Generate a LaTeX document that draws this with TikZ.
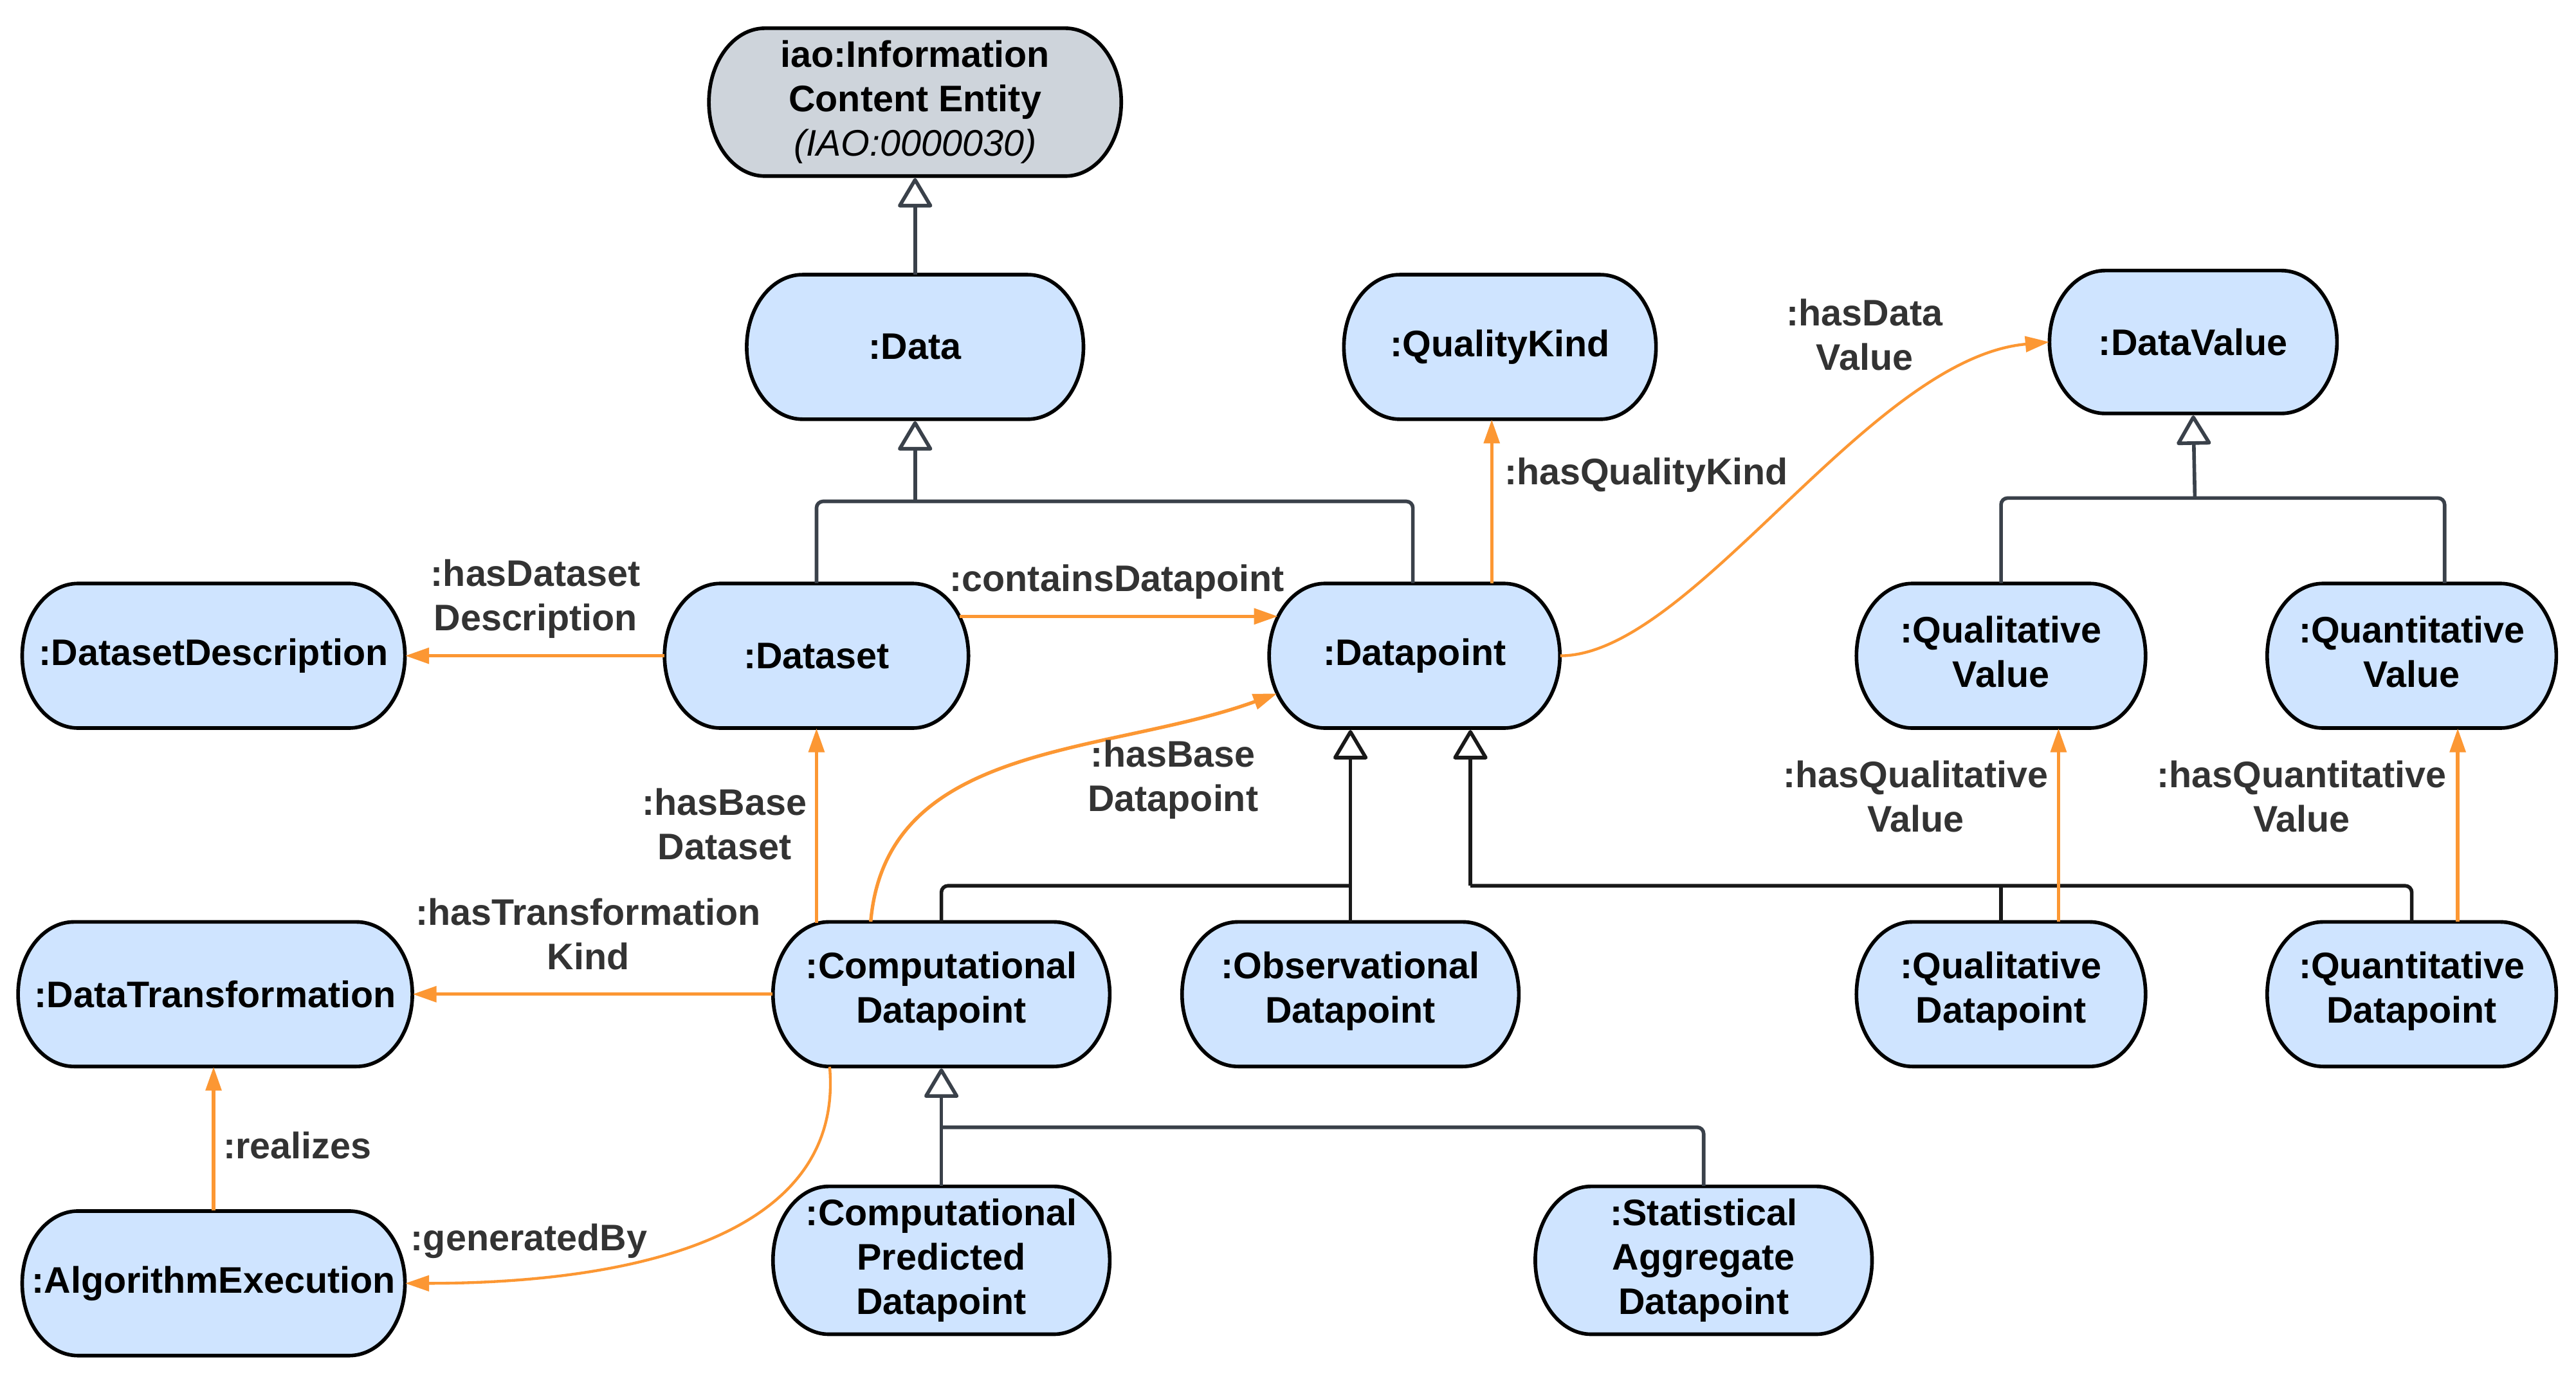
\documentclass[tikz,border=0pt]{standalone}
\usepackage{fontspec}
\setmainfont{Liberation Sans}
\usetikzlibrary{arrows.meta,calc}
\definecolor{nodeblue}{HTML}{CFE4FF}
\definecolor{nodegray}{HTML}{CED4DB}
\definecolor{inhgray}{HTML}{3A414A}
\definecolor{relorange}{HTML}{FC9733}
\definecolor{lbltext}{HTML}{333333}

\newcommand\pillnode[8]{%
  \filldraw[line width=2.2pt, fill=#6] ({#2-#4/2+34},{#3+#5/2}) -- ({#2+#4/2-34},{#3+#5/2})
    arc[start angle=90,end angle=-90,x radius=34,y radius=#5/2]
    -- ({#2-#4/2+34},{#3-#5/2})
    arc[start angle=270,end angle=90,x radius=34,y radius=#5/2] -- cycle;
  \node[nodetext, minimum width=#4pt, minimum height=#5pt, text depth=0pt] (#1) at (#2,#3) {};
  \node[nodetext] (#1-t) at ($(#1.center)+(0,#7)$) {#8};
}

\tikzset{
  nodetext/.style={inner sep=0pt, align=center, text=black,
    font=\bfseries\fontsize{22.5}{27}\selectfont},
  lbl/.style={inner sep=0pt, align=center, text=lbltext,
    font=\bfseries\fontsize{22.5}{27}\selectfont},
  inh/.style={draw=inhgray, line width=2.2pt, rounded corners=4pt},
  inhblack/.style={draw=black!90, line width=2.2pt, rounded corners=4pt},
  inharrow/.style={-{Triangle[length=19pt,width=22pt,fill=white,round]}, shorten >=1pt},
  rel/.style={draw=relorange, line width=2.1pt,
    -{Triangle[length=14.5pt,width=9.5pt]}},
  relthin/.style={draw=relorange, line width=1.7pt,
    -{Triangle[length=14.5pt,width=9.5pt]}},
}

\begin{document}
\begin{tikzpicture}[x=1pt,y=1pt]
\path[use as bounding box, fill=white] (0,0) rectangle (1568,838.2);

% ---- nodes ----
\pillnode{IAO}{557}{776}{251}{90}{nodegray}{0}{iao:Information\\Content Entity\\{\mdseries\itshape (IAO:0000030)}}
\pillnode{Data}{557}{627}{205}{88}{nodeblue}{0}{:Data}
\pillnode{QK}{913}{627}{190}{88}{nodeblue}{0}{:QualityKind}
\pillnode{DV}{1335}{630}{175}{87}{nodeblue}{0}{:DataValue}
\pillnode{DD}{130}{439}{233}{88}{nodeblue}{0}{:DatasetDescription}
\pillnode{Dataset}{497}{439}{185}{88}{nodeblue}{0}{:Dataset}
\pillnode{DP}{861}{439}{177}{88}{nodeblue}{0}{:Datapoint}
\pillnode{QualV}{1218}{439}{176}{88}{nodeblue}{2.5}{:Qualitative\\Value}
\pillnode{QuantV}{1468}{439}{176}{88}{nodeblue}{2.5}{:Quantitative\\Value}
\pillnode{DT}{131}{233}{240}{88}{nodeblue}{0}{:DataTransformation}
\pillnode{Comp}{573}{233}{205}{88}{nodeblue}{2}{:Computational\\Datapoint}
\pillnode{Obs}{822}{233}{205}{88}{nodeblue}{2}{:Observational\\Datapoint}
\pillnode{QualDP}{1218}{233}{176}{88}{nodeblue}{2}{:Qualitative\\Datapoint}
\pillnode{QuantDP}{1468}{233}{176}{88}{nodeblue}{2}{:Quantitative\\Datapoint}
\pillnode{AE}{130}{57}{233}{88}{nodeblue}{0}{:AlgorithmExecution}
\pillnode{CPD}{573}{71}{205}{90}{nodeblue}{0}{:Computational\\Predicted\\Datapoint}
\pillnode{SAD}{1037}{71}{205}{90}{nodeblue}{0}{:Statistical\\Aggregate\\Datapoint}

% ---- junction coordinates ----
\coordinate (j1) at (557,533);
\coordinate (j2) at (1336,535);
\coordinate (j3) at (822,299);
\coordinate (j4) at (895,299);
\coordinate (j5) at (573,152);

% ---- inheritance ----
\draw[inh, inharrow] (Data.north) -- (IAO.south);
\draw[inh] (Dataset.north) |- (j1) -| ($(DP.north)+(-1,0)$);
\draw[inh, inharrow, rounded corners=0pt] (j1) -- (Data.south);

\draw[inh] (QualV.north) |- (j2) -| ($(QuantV.north)+(20,0)$);
\draw[inh, inharrow, rounded corners=0pt] (j2) -- (DV.south);

\draw[inhblack] (Comp.north) |- (j3);
\draw[inhblack, inharrow] (Obs.north) -- (Obs.north |- DP.south);
\draw[inhblack, inharrow, rounded corners=0pt] (j4) -- (j4 |- DP.south);
\draw[inhblack] (QuantDP.north) |- (j4);
\draw[inhblack] (QualDP.north) -- (QualDP.north |- j4);

\draw[inh] (SAD.north) |- (j5);
\draw[inh, inharrow] (CPD.north) -- (Comp.south);

% ---- relations ----
\draw[rel] (Dataset.west) -- (DD.east);
\draw[rel] ($(Dataset.east)+(-5.5,24)$) -- ($(DP.west)+(5.5,24)$);
\draw[rel] ($(DP.north)+(47,0)$) coordinate (qk0) -- (qk0 |- QK.south);
\draw[relthin] (DP.east) .. controls +(80,0) and +(-110,-10) .. (DV.west);
\draw[rel] ($(Comp.north)+(-76,-1)$) coordinate (ds0) -- (ds0 |- Dataset.south);
\draw[rel] ($(Comp.north)+(-43,0)$) to[out=85,in=200] ($(DP.west)+(5,-23)$);
\draw[rel] (Comp.west) -- (DT.east);
\draw[relthin] ($(Comp.south)+(-68,0)$) to[out=-85,in=0] (AE.east);
\draw[rel] (AE.north) -- (AE.north |- DT.south);
\draw[rel] ($(QualDP.north)+(35,0)$) coordinate (qv0) -- (qv0 |- QualV.south);
\draw[rel] ($(QuantDP.north)+(28,0)$) coordinate (nv0) -- (nv0 |- QuantV.south);

% ---- labels ----
\node[lbl] (l1) at (326,473.5) {:hasDataset\\Description};
\node[lbl] (l2) at (680,484) {:containsDatapoint};
\node[lbl] (l3) at (1002,549) {:hasQualityKind};
\node[lbl] (l4) at (1135,634.5) {:hasData\\Value};
\node[lbl] (l5) at (441,336.5) {:hasBase\\Dataset};
\node[lbl] (l6) at (714,363.5) {:hasBase\\Datapoint};
\node[lbl] (l7) at (358,269.5) {:hasTransformation\\Kind};
\node[lbl] (l8) at (181,141) {:realizes};
\node[lbl] (l9) at (322,82.5) {:generatedBy};
\node[lbl] (l10) at (1166,353.5) {:hasQualitative\\Value};
\node[lbl] (l11) at (1401,353.5) {:hasQuantitative\\Value};
\end{tikzpicture}
\end{document}
